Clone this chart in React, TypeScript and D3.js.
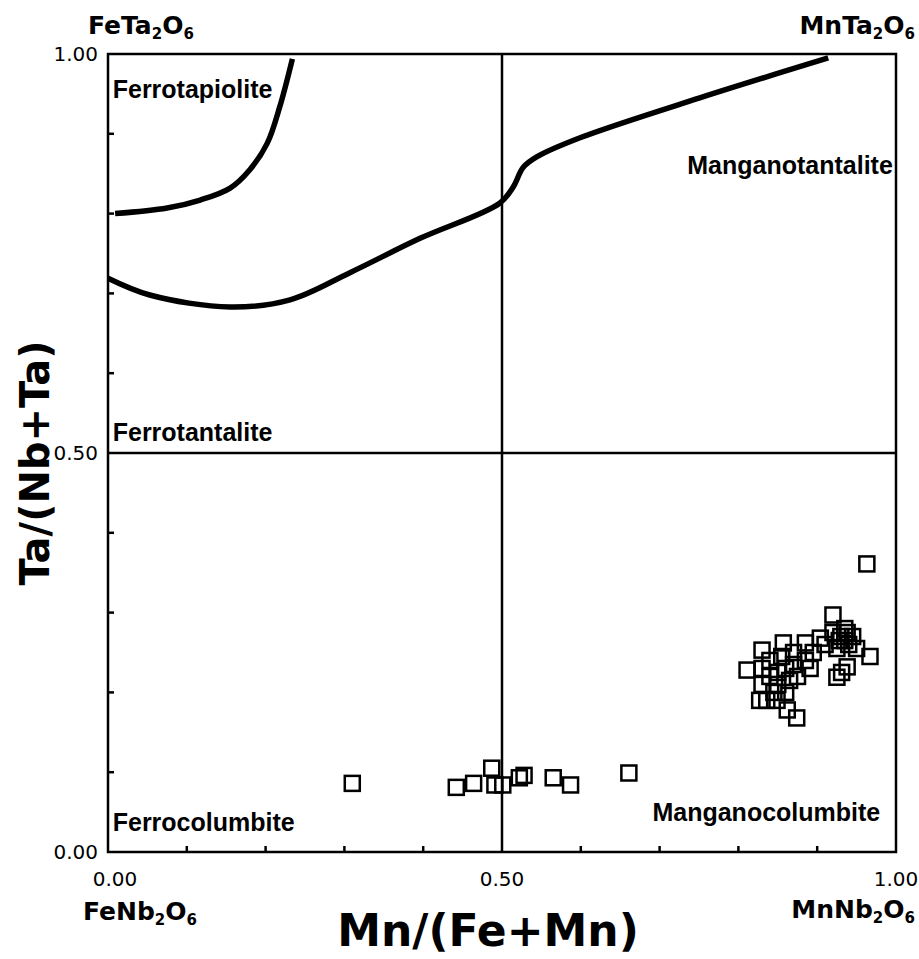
import React, { useEffect, useRef } from 'react';
import * as d3 from 'd3';

// sample compositions: [Mn/(Fe+Mn), Ta/(Nb+Ta)]
const lowGroup: [number, number][] = [
  [0.31, 0.086], [0.442, 0.081], [0.464, 0.086], [0.487, 0.105], [0.491, 0.084],
  [0.501, 0.084], [0.522, 0.093], [0.528, 0.096], [0.565, 0.093], [0.587, 0.084],
  [0.661, 0.099],
];

const highGroup: [number, number][] = [
  [0.963, 0.361], [0.92, 0.297], [0.967, 0.245], [0.874, 0.168], [0.862, 0.178],
  [0.811, 0.228], [0.83, 0.253], [0.857, 0.262], [0.885, 0.262], [0.904, 0.268],
  [0.92, 0.275], [0.93, 0.27], [0.935, 0.265], [0.94, 0.26], [0.925, 0.255],
  [0.945, 0.27], [0.935, 0.28], [0.925, 0.219], [0.931, 0.225], [0.938, 0.232],
  [0.827, 0.19], [0.836, 0.19], [0.849, 0.19], [0.83, 0.23], [0.84, 0.22],
  [0.85, 0.225], [0.86, 0.23], [0.87, 0.235], [0.84, 0.24], [0.855, 0.245],
  [0.87, 0.25], [0.885, 0.24], [0.895, 0.25], [0.83, 0.21], [0.85, 0.21],
  [0.865, 0.215], [0.875, 0.22], [0.86, 0.2], [0.845, 0.2], [0.891, 0.23],
  [0.91, 0.26], [0.95, 0.255], [0.928, 0.265], [0.938, 0.275],
];

// field boundaries
const tapioliteLine: [number, number][] = [
  [0.009, 0.8], [0.075, 0.807], [0.117, 0.817], [0.155, 0.832], [0.18, 0.855],
  [0.202, 0.888], [0.218, 0.934], [0.234, 0.994],
];
const tantaliteLine: [number, number][] = [
  [0, 0.719], [0.053, 0.698], [0.155, 0.683], [0.231, 0.692], [0.307, 0.726],
  [0.396, 0.769], [0.497, 0.813], [0.514, 0.833], [0.527, 0.858], [0.544, 0.871],
  [0.599, 0.895], [0.751, 0.945], [0.914, 0.995],
];

const tickLabels = ['0.00', '0.50', '1.00'];
const minorTicks = [0.1, 0.2, 0.3, 0.4, 0.6, 0.7, 0.8, 0.9];

const fieldNames = [
  { name: 'Ferrotapiolite', x: 0.006, y: 0.945, anchor: 'start' },
  { name: 'Manganotantalite', x: 0.996, y: 0.85, anchor: 'end' },
  { name: 'Ferrotantalite', x: 0.006, y: 0.515, anchor: 'start' },
  { name: 'Ferrocolumbite', x: 0.006, y: 0.026, anchor: 'start' },
  { name: 'Manganocolumbite', x: 0.98, y: 0.039, anchor: 'end' },
];

const endMembers = [
  { main: ['FeTa', 'O'], x: 88, y: 34, anchor: 'start' },
  { main: ['MnTa', 'O'], x: 915, y: 34, anchor: 'end' },
  { main: ['FeNb', 'O'], x: 83, y: 920, anchor: 'start' },
  { main: ['MnNb', 'O'], x: 915, y: 918, anchor: 'end' },
];

function App() {
  const ref = useRef<SVGSVGElement>(null);
  const width = 919;
  const height = 959;
  const margin = { top: 54, right: 23, bottom: 107, left: 108 };

  useEffect(() => {
    const svg = d3.select(ref.current);
    svg.selectAll('*').remove();

    const x = d3.scaleLinear().domain([0, 1]).range([margin.left, width - margin.right]);
    const y = d3.scaleLinear().domain([0, 1]).range([height - margin.bottom, margin.top]);

    const g = svg.append('g');

    // frame
    g.append('rect')
      .attr('x', x(0)).attr('y', y(1))
      .attr('width', x(1) - x(0)).attr('height', y(0) - y(1))
      .attr('fill', 'none').attr('stroke', '#000').attr('stroke-width', 2.5);

    // inward ticks
    g.selectAll('.yt').data(minorTicks).enter().append('line')
      .attr('x1', x(0)).attr('x2', x(0) + 6)
      .attr('y1', d => y(d)).attr('y2', d => y(d))
      .attr('stroke', '#000').attr('stroke-width', 2.5);
    g.selectAll('.xt').data(minorTicks).enter().append('line')
      .attr('x1', d => x(d)).attr('x2', d => x(d))
      .attr('y1', y(0)).attr('y2', y(0) - 6)
      .attr('stroke', '#000').attr('stroke-width', 2.5);

    // 0.5 dividers
    g.append('line').attr('x1', x(0.5)).attr('x2', x(0.5)).attr('y1', y(0)).attr('y2', y(1))
      .attr('stroke', '#000').attr('stroke-width', 2.5);
    g.append('line').attr('x1', x(0)).attr('x2', x(1)).attr('y1', y(0.5)).attr('y2', y(0.5))
      .attr('stroke', '#000').attr('stroke-width', 2.5);

    // tick labels
    g.selectAll('.yl').data(tickLabels).enter().append('text')
      .attr('x', x(0) - 10).attr('y', d => y(+d) + 7)
      .attr('text-anchor', 'end')
      .style('font-family', 'DejaVu Sans').style('font-size', '20px')
      .text(d => d);
    g.selectAll('.xl').data(tickLabels).enter().append('text')
      .attr('x', (d, i) => x(+d) + (i === 0 ? 7 : 0)).attr('y', 886)
      .attr('text-anchor', 'middle')
      .style('font-family', 'DejaVu Sans').style('font-size', '20px')
      .text(d => d);

    const line = d3.line<[number, number]>()
      .x(d => x(d[0])).y(d => y(d[1]))
      .curve(d3.curveCatmullRom.alpha(0.5));
    [tapioliteLine, tantaliteLine].forEach(pts => {
      g.append('path').attr('d', line(pts))
        .attr('fill', 'none').attr('stroke', '#000').attr('stroke-width', 5.5)
        .attr('stroke-linecap', 'butt');
    });

    // samples
    const s = 15;
    g.selectAll('.pt').data([...lowGroup, ...highGroup]).enter().append('rect')
      .attr('x', d => x(d[0]) - s / 2).attr('y', d => y(d[1]) - s / 2)
      .attr('width', s).attr('height', s)
      .attr('fill', 'none').attr('stroke', '#000').attr('stroke-width', 2.5);

    // field names
    g.selectAll('.fn').data(fieldNames).enter().append('text')
      .attr('x', d => x(d.x)).attr('y', d => y(d.y))
      .attr('text-anchor', d => d.anchor)
      .style('font-family', 'Liberation Sans, Arial').style('font-weight', 'bold')
      .style('font-size', '25px')
      .text(d => d.name);

    // end-member formulas
    endMembers.forEach(m => {
      const t = g.append('text').attr('x', m.x).attr('y', m.y)
        .attr('text-anchor', m.anchor)
        .style('font-family', 'DejaVu Sans').style('font-weight', 'bold').style('font-size', '25px');
      t.append('tspan').text(m.main[0]);
      t.append('tspan').attr('dy', 5).style('font-size', '15px').text('2');
      t.append('tspan').attr('dy', -5).text(m.main[1]);
      t.append('tspan').attr('dy', 5).style('font-size', '15px').text('6');
    });

    // axis titles
    g.append('text')
      .attr('transform', `translate(49,${(y(0) + y(1)) / 2 + 10}) rotate(-90)`)
      .attr('text-anchor', 'middle')
      .style('font-family', 'DejaVu Sans').style('font-weight', 'bold').style('font-size', '40px')
      .text('Ta/(Nb+Ta)');
    g.append('text')
      .attr('x', 488).attr('y', 946)
      .attr('text-anchor', 'middle')
      .style('font-family', 'DejaVu Sans').style('font-weight', 'bold').style('font-size', '44px')
      .text('Mn/(Fe+Mn)');
  }, []);

  return (
    <svg ref={ref} width={width} height={height}
      style={{ position: 'absolute', left: 0, top: 0, background: '#fff' }} />
  );
}

export default App;
